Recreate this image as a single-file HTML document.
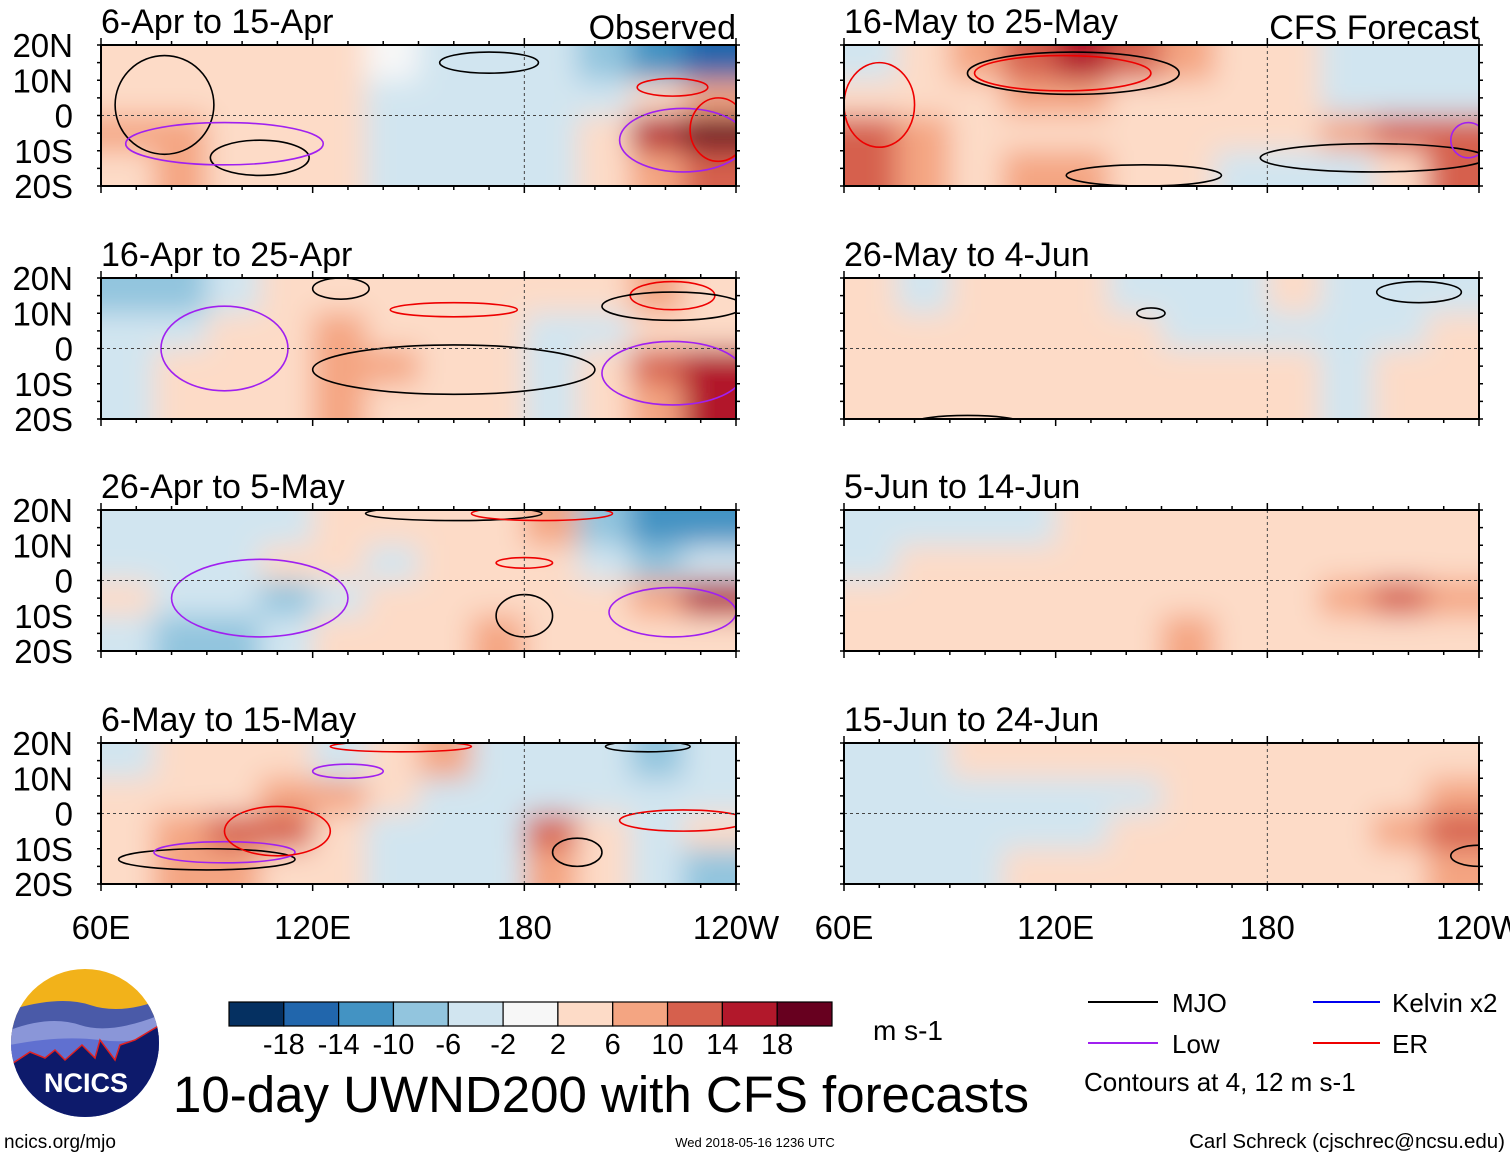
<!DOCTYPE html>
<html><head><meta charset="utf-8"><style>
html,body{margin:0;padding:0;background:#fff;}
body{width:1510px;height:1158px;position:relative;overflow:hidden;font-family:"Liberation Sans",sans-serif;}
svg text{font-family:"Liberation Sans",sans-serif;}
</style></head><body>
<svg id="chart" width="1510" height="1158" xmlns="http://www.w3.org/2000/svg">
<defs>
<filter id="blur" x="-5%" y="-10%" width="110%" height="120%"><feGaussianBlur stdDeviation="14"/></filter>
</defs>
</svg>
<script>
const titles=["6-Apr to 15-Apr","16-Apr to 25-Apr","26-Apr to 5-May","6-May to 15-May","16-May to 25-May","26-May to 4-Jun","5-Jun to 14-Jun","15-Jun to 24-Jun"];
const lonCenters=[67.5,82.5,97.5,112.5,127.5,142.5,157.5,172.5,187.5,202.5,217.5,232.5];
const latCenters=[15,5,-5,-15];
const p1=[[4,4,2,4,2,0,-2,-4,-4,-6,-10,-14],[4,4,2,4,2,-2,-2,-4,-2,-2,2,6],[6,6,4,2,2,-2,-2,-2,-2,4,14,18],[4,6,4,2,2,-2,-4,-4,-2,2,6,10]];
const p2=[[-6,-6,-2,2,4,4,2,2,4,4,6,4],[-2,-2,2,4,6,4,4,2,-2,-2,4,4],[-2,2,4,4,6,6,4,2,-2,2,10,14],[-2,2,4,4,6,4,4,2,-2,2,6,14]];
const p3=[[-4,-2,-4,-2,2,2,2,4,6,-6,-10,-10],[-2,-2,-2,2,2,-2,2,2,2,-2,-6,-4],[4,-2,-2,-6,-2,2,2,2,2,4,6,14],[-2,-6,-6,-4,2,2,4,6,2,2,4,4]];
const p4=[[-2,4,4,4,-2,4,6,-2,-2,-4,-6,-4],[2,4,4,6,6,2,-2,-4,-2,-4,-4,-2],[4,6,10,10,2,-2,-4,-2,10,2,-2,2],[4,6,6,4,2,-2,-2,-2,6,2,-4,-6]];
const p5=[[-2,4,6,10,14,10,6,2,2,-2,-4,-4],[4,2,4,6,6,4,2,2,2,-2,-4,-2],[10,6,4,4,2,2,2,2,2,6,10,10],[10,6,4,6,6,2,2,-2,-4,-4,4,10]];
const p6=[[2,-2,2,2,2,-2,-2,-2,2,-2,-2,-2],[4,2,2,2,2,2,-2,-4,-2,-2,-2,2],[4,2,2,2,2,2,2,2,2,-2,2,4],[2,2,2,2,2,2,2,2,2,-2,2,4]];
const p7=[[-2,-2,-2,-2,2,2,2,4,4,2,2,2],[-2,2,2,2,2,2,2,4,4,4,4,4],[2,4,2,2,2,2,2,2,4,6,10,6],[2,4,2,2,2,4,6,2,2,2,2,4]];
const p8=[[-2,-2,2,2,2,2,2,4,4,4,4,2],[-2,-2,-2,-2,-2,-2,2,2,2,2,4,6],[-2,-2,-4,-2,-2,2,2,2,2,2,6,10],[-2,-2,-2,2,2,2,2,2,2,2,4,6]];
const fields=[p1,p2,p3,p4,p5,p6,p7,p8];
const c1=[["mjo",170,15,14,3],["mjo",78,3,14,14],["mjo",105,-12,14,5],["low",95,-8,28,6],["low",225,-7,18,9],["er",222,8,10,2.5],["er",235,-4,8,9]];
const c2=[["mjo",128,17,8,3],["mjo",160,-6,40,7],["er",160,11,18,2],["er",222,15,12,4],["mjo",222,12,20,4],["low",222,-7,20,9],["low",95,0,18,12]];
const c3=[["mjo",160,19,25,2],["er",185,19,20,2],["er",180,5,8,1.5],["mjo",180,-10,8,6],["low",105,-5,25,11],["low",222,-9,18,7]];
const c4=[["mjo",90,-13,25,3],["low",95,-11,20,3],["er",110,-5,15,7],["low",130,12,10,2],["er",225,-2,18,3],["mjo",195,-11,7,4],["er",145,19,20,1.5],["mjo",215,19,12,1.5]];
const c5=[["mjo",125,12,30,6],["er",122,12,25,5],["mjo",210,-12,32,4],["mjo",145,-17,22,3],["er",70,3,10,12],["low",237,-7,5,5]];
const c6=[["mjo",223,16,12,3],["mjo",147,10,4,1.5],["mjo",95,-21,15,2]];
const c7=[];
const c8=[["mjo",240,-12,8,3]];
const contours=[c1,c2,c3,c4,c5,c6,c7,c8];
const bounds=[-18,-14,-10,-6,-2,2,6,10,14,18];
const palette=["#053061","#2166ac","#4393c3","#92c5de","#d1e5f0","#f7f7f7","#fddbc7","#f4a582","#d6604d","#b2182b","#67001f"];
const cbLabels=["-18","-14","-10","-6","-2","2","6","10","14","18"];
const yLabels=["20N","10N","0","10S","20S"];
const yLabelLats=[20,10,0,-10,-20];
const xLabels=["60E","120E","180","120W"];
const xLabelLons=[60,120,180,240];

const NS="http://www.w3.org/2000/svg";
const svg=document.getElementById('chart');
function mk(tag,attrs,parent){const e=document.createElementNS(NS,tag);for(const k in attrs)e.setAttribute(k,attrs[k]);(parent||svg).appendChild(e);return e;}
function colorOf(v){let n=0;for(const b of bounds){if(v>=0?b<=v:b<v)n++;}return palette[n];}
const PW=635,PH=141;
const lefts=[101,844], tops=[45,278,510,743];
const kcol={mjo:"#000",low:"#a020f0",er:"#ee0000"};

for(let p=0;p<8;p++){
  const x0=lefts[p<4?0:1], y0=tops[p%4];
  const sx=lon=>x0+(lon-60)/180*PW;
  const sy=lat=>y0+(20-lat)/40*PH;
  const g=mk('g',{});
  
  
  const cid='clip'+p;
  const cp=mk('clipPath',{id:cid},svg.querySelector('defs'));
  mk('rect',{x:x0,y:y0,width:PW,height:PH},cp);
  const cg=mk('g',{'clip-path':'url(#'+cid+')'},g);
  const hg=mk('g',{filter:'url(#blur)'},cg);
  const dlon=15,dlat=10;
  fields[p].forEach((row,i)=>row.forEach((v,j)=>{
    let xa=sx(lonCenters[j]-dlon/2), xb=sx(lonCenters[j]+dlon/2);
    let ya=sy(latCenters[i]+dlat/2), yb=sy(latCenters[i]-dlat/2);
    if(j===0)xa-=40; if(j===row.length-1)xb+=40;
    if(i===0)ya-=40; if(i===fields[p].length-1)yb+=40;
    const r=mk('rect',{x:xa,y:ya,width:xb-xa+1,height:yb-ya+1,fill:colorOf(v)},hg);
    
    
  }));
  contours[p].forEach(c=>{
    const e=mk('ellipse',{cx:sx(c[1]),cy:sy(c[2]),rx:c[3]/180*PW,ry:c[4]/40*PH,fill:'none',stroke:kcol[c[0]],'stroke-width':1.6},cg);
    
    
  });
  mk('line',{x1:x0,x2:x0+PW,y1:sy(0),y2:sy(0),stroke:'#444','stroke-dasharray':'3,3','stroke-width':1},g);
  mk('line',{x1:sx(180),x2:sx(180),y1:y0,y2:y0+PH,stroke:'#444','stroke-dasharray':'3,3','stroke-width':1},g);
  const fr=mk('rect',{x:x0,y:y0,width:PW,height:PH,fill:'none',stroke:'#000','stroke-width':2},g);
  
  
  for(let lon=60;lon<=240;lon+=10){
    const big=(lon%60===0);
    mk('line',{x1:sx(lon),x2:sx(lon),y1:y0,y2:y0-(big?7:4),stroke:'#000','stroke-width':1.5},g);
    mk('line',{x1:sx(lon),x2:sx(lon),y1:y0+PH,y2:y0+PH+(big?7:4),stroke:'#000','stroke-width':1.5},g);
  }
  for(let lat=-20;lat<=20;lat+=5){
    mk('line',{x1:x0,x2:x0-4,y1:sy(lat),y2:sy(lat),stroke:'#000','stroke-width':1.5},g);
    mk('line',{x1:x0+PW,x2:x0+PW+4,y1:sy(lat),y2:sy(lat),stroke:'#000','stroke-width':1.5},g);
  }
  const t=mk('text',{x:x0,y:y0-12,'font-size':34,fill:'#000'},g);t.textContent=titles[p];
  
  
  if(p%4===0){
    const s=mk('text',{x:x0+PW,y:y0-6,'font-size':34,'text-anchor':'end'},g);s.textContent=p===0?"Observed":"CFS Forecast";
    
    
  }
  if(p<4){
    yLabels.forEach((l,k)=>{const tt=mk('text',{x:73,y:sy(yLabelLats[k])+12,'font-size':33,'text-anchor':'end'},g);tt.textContent=l;
      
      });
  }
  if(p%4===3){
    xLabels.forEach((l,k)=>{const tt=mk('text',{x:sx(xLabelLons[k]),y:939,'font-size':33,'text-anchor':'middle'},g);tt.textContent=l;
      
      });
  }
}
const cb=mk('g',{});


const cbx=229,cbw=603/11;
palette.forEach((c,i)=>mk('rect',{x:cbx+i*cbw,y:1002,width:cbw,height:24,fill:c,stroke:'#000','stroke-width':1.2},cb));
cbLabels.forEach((l,i)=>{const t=mk('text',{x:cbx+(i+1)*cbw,y:1054,'font-size':29,'text-anchor':'middle'},cb);t.textContent=l;});
const u=mk('text',{x:873,y:1040,'font-size':28},cb);u.textContent="m s-1";
</script>
<svg style="position:absolute;left:0;top:0" width="1510" height="1158" xmlns="http://www.w3.org/2000/svg">
<defs><clipPath id="logoclip2"><circle cx="85" cy="1043" r="74"/></clipPath></defs>
<g clip-path="url(#logoclip2)">
<rect x="10" y="968" width="150" height="150" fill="#f2b21a"/>
<path d="M10 1010 Q60 995 90 1005 T160 1000 L160 1118 L10 1118Z" fill="#4a5aa8"/>
<path d="M10 1030 Q50 1015 80 1025 T160 1015 L160 1118 L10 1118Z" fill="#8a96d8"/>
<path d="M10 1045 Q60 1035 100 1040 T160 1030 L160 1118 L10 1118Z" fill="#6070d0"/>
<path d="M10 1065 L30 1052 L45 1058 L55 1050 L65 1060 L82 1045 L95 1058 L100 1040 L115 1060 L120 1045 L135 1040 L160 1025 L160 1118 L10 1118Z" fill="#0d1a6b" stroke="#e02020" stroke-width="1.5"/>
<text x="86" y="1092" font-size="27" font-weight="bold" fill="#fff" text-anchor="middle" font-family="Liberation Sans, sans-serif">NCICS</text>
</g>
<g font-family="Liberation Sans, sans-serif">
<line x1="1088" y1="1002" x2="1158" y2="1002" stroke="#000" stroke-width="2"/><text x="1172" y="1012" font-size="26">MJO</text>
<line x1="1313" y1="1002" x2="1380" y2="1002" stroke="#0000ee" stroke-width="2"/><text x="1392" y="1012" font-size="26">Kelvin x2</text>
<line x1="1088" y1="1043" x2="1158" y2="1043" stroke="#a020f0" stroke-width="2"/><text x="1172" y="1053" font-size="26">Low</text>
<line x1="1313" y1="1043" x2="1380" y2="1043" stroke="#ee0000" stroke-width="2"/><text x="1392" y="1053" font-size="26">ER</text>
<text x="1084" y="1091" font-size="26">Contours at 4, 12 m s-1</text>
</g>
<text x="173" y="1112" font-size="51" font-family="Liberation Sans, sans-serif">10-day UWND200 with CFS forecasts</text>
<text x="4" y="1148" font-size="19" font-family="Liberation Sans, sans-serif">ncics.org/mjo</text>
<text x="755" y="1147" font-size="13" text-anchor="middle" font-family="Liberation Sans, sans-serif">Wed 2018-05-16 1236 UTC</text>
<text x="1505" y="1148" font-size="20.5" text-anchor="end" font-family="Liberation Sans, sans-serif">Carl Schreck (cjschrec@ncsu.edu)</text>
</svg>
</body></html>
